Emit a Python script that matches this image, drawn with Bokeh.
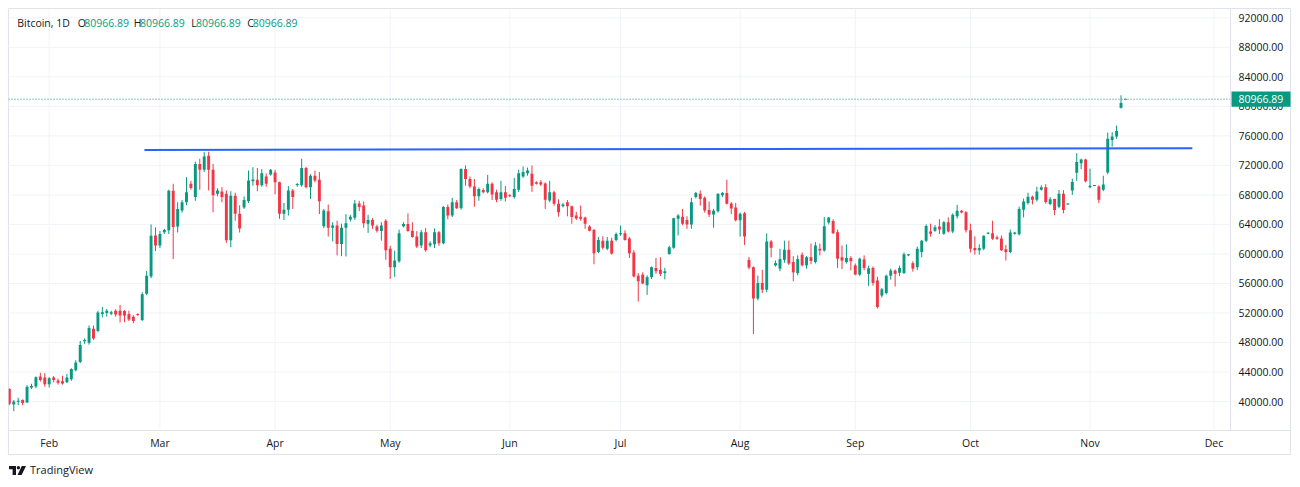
import datetime as dt
import pandas as pd
from bokeh.plotting import figure
from bokeh.models import ColumnDataSource, Range1d, Div
from bokeh.core.properties import value
from bokeh.layouts import column
from bokeh.embed import file_html
from bokeh.resources import INLINE

# ---------------- data ----------------
symbol = "Bitcoin, 1D"
first_session = "2024-01-22"
last_session = "2024-11-11"          # sessions run Sunday..Friday
month_labels = ["Feb", "Mar", "Apr", "May", "Jun", "Jul", "Aug", "Sep", "Oct", "Nov", "Dec"]
price_ticks = [40000, 44000, 48000, 52000, 56000, 60000, 64000, 68000, 72000, 76000, 80000, 84000, 88000, 92000]
trend_sessions = [30.5, 267.1]
trend_prices = [74100, 74330]

opens = [
    # Jan
    41700, 39600, 39950, 40200, 39850, 41900, 42050, 43400, 43250,
    # Feb
    42350, 43250, 42850, 42750, 42600, 43000, 44250, 45350, 48150, 47950, 49850, 49550, 51850,
    52000, 51900, 52300, 52300, 52250, 51850, 51500, 51850, 51050, 54600, 56950, 62500,
    # Mar
    61150, 62950, 63200, 68550, 63700, 65900, 67000, 69500, 67700, 72200, 71400, 73300, 71400,
    68150, 68450, 68150, 61850, 67900, 65450, 66300, 67150, 69850, 70050, 69300, 70500, 70750,
    # Apr
    71050, 69700, 65450, 66000, 68600, 69350, 69300, 71650, 69050, 70600, 70050, 63750, 65800,
    63550, 63850, 61350, 63550, 64650, 64900, 66850, 66550, 64100, 64600, 63700, 63100, 64500,
    # May
    60700, 58200, 59000, 63750, 64050, 63150, 62350, 61150, 62950, 61150, 61300, 62950, 61450,
    66350, 65200, 67000, 66200, 71500, 70150, 69150, 67800, 68650, 68350, 69500, 68350, 67450, 68350,
    # Jun
    67950, 67700, 68700, 70500, 70950, 70850, 69700, 69700, 69550, 67250, 68350, 66800, 66450,
    67000, 66450, 65200, 65050, 64950, 63700, 63250, 60250, 61800, 60700, 61800, 61900,
    # Jul
    62650, 62800, 62100, 60200, 57050, 57200, 55750, 56850, 58100, 57850, 57400, 60000, 60850,
    64750, 65050, 64600, 64000, 67700, 68150, 67600, 65950, 65350, 65800, 67950, 68250, 66850, 66300,
    # Aug
    64550, 65500, 59200, 58200, 53950, 56050, 55150, 61700, 58450, 58000, 59200, 60550, 58900,
    57400, 59900, 58450, 59550, 58900, 60700, 60450, 64250, 64450, 62950, 59550, 58900, 59450,
    # Sep
    58450, 57200, 59250, 57300, 58100, 56400, 54350, 54700, 57050, 57750, 57450, 57400, 59850,
    58750, 58200, 60250, 61800, 63050, 63150, 63700, 62750, 64300, 63050, 65100, 65850, 65650,
    # Oct
    63200, 60800, 60500, 60700, 62750, 62800, 62250, 62100, 60650, 60250, 62750, 62650, 66000,
    66900, 67750, 67350, 68700, 69050, 66750, 67450, 66400, 68150, 66750, 68600, 71000, 72300, 72800,
    # Nov
    69050, 69250, 69150, 68700, 71050, 75450, 75900, 79800, 80966.89,
]
highs = [
    41800, 40200, 40500, 40300, 42200, 42400, 43400, 43900, 43850,
    43300, 43450, 43100, 43500, 43750, 44500, 45600, 48200, 48550, 50300, 50300, 52300, 52800,
    52550, 52300, 52500, 53100, 52400, 52300, 51700, 51950, 54800, 57700, 64000, 63600,
    63100, 63400, 68700, 69500, 67000, 67300, 70400, 69900, 72500, 72900, 73800, 73850, 72200,
    68900, 69050, 68600, 68500, 68300, 66600, 67800, 71300, 71750, 71650, 71500, 70900, 71500,
    71400, 69800, 66900, 69200, 68800, 69600, 72900, 71800, 70800, 71300, 71100, 66100, 66700,
    64300, 64500, 64100, 65400, 65300, 67300, 67200, 67100, 65300, 64850, 63950, 64300, 64700,
    61100, 60450, 63300, 64300, 65500, 64300, 63100, 63250, 63500, 61700, 63450, 63100, 66500,
    66700, 67600, 67300, 71600, 71980, 70500, 70150, 69000, 68900, 70700, 69700, 68700, 69900, 69200,
    68100, 70300, 71400, 71850, 71700, 71980, 69850, 70000, 69700, 69900, 68550, 67400, 66900,
    67300, 66550, 65700, 66550, 65050, 63900, 63400, 62300, 62400, 62300, 62200, 62900,
    63850, 63200, 62300, 60500, 57400, 57500, 57100, 58300, 59450, 59550, 58100, 61100, 64900,
    65400, 66100, 65100, 67600, 68400, 68600, 67800, 67100, 66100, 68200, 68400, 70050, 67000, 66900,
    65600, 65700, 59600, 58300, 57050, 57850, 62800, 61900, 59100, 60700, 61800, 61800, 59700,
    59800, 60200, 59700, 61400, 61600, 61400, 65000, 65000, 64700, 63300, 61150, 61300, 59700,
    58700, 59500, 59800, 58400, 58300, 56900, 55400, 57200, 58000, 57900, 58400, 60200, 60000,
    59000, 61000, 61900, 64000, 64100, 63900, 64700, 64450, 64950, 65500, 66650, 65950, 65800,
    64100, 62400, 61300, 62500, 62950, 64500, 62500, 62500, 61200, 63300, 63000, 66400, 67500,
    68300, 67900, 69100, 69300, 69450, 67700, 67500, 68650, 68650, 66900, 70200, 73650, 72900, 72900,
    71550, 69300, 69300, 70600, 76450, 76500, 77400, 81500, 80966.89,
]
lows = [
    39500, 38700, 39500, 39500, 39800, 41700, 41800, 42700, 42000,
    41900, 42600, 42300, 42300, 42500, 42800, 44100, 45200, 47800, 47700, 48350, 49400, 51400,
    51500, 51700, 51500, 50700, 50750, 50900, 50600, 51600, 50900, 54400, 56700, 60400,
    60800, 62700, 62700, 59300, 62900, 65600, 66600, 68700, 67200, 68700, 71100, 68600, 65650,
    67800, 67000, 61500, 60900, 64500, 62900, 66100, 66900, 69250, 68500, 69100, 69100, 70600,
    68100, 64750, 64600, 65200, 66100, 69100, 69100, 68900, 67450, 69700, 65400, 63500, 62350,
    61700, 59800, 59700, 59650, 64400, 64600, 65800, 63550, 62850, 63400, 62900, 61800, 59200,
    56600, 56900, 58800, 63600, 63000, 62200, 60800, 60800, 60300, 60900, 60800, 61100, 61300,
    64700, 65000, 66100, 66000, 69250, 68900, 66400, 67200, 68200, 68200, 67300, 67000, 67200, 67100,
    67700, 67500, 68400, 70300, 70600, 68400, 69400, 69200, 66100, 67000, 66550, 65050, 66300,
    65100, 64100, 64600, 64500, 63400, 63050, 58600, 60100, 60600, 60500, 59900, 61700,
    62450, 61800, 59450, 56800, 53550, 55900, 54450, 56600, 57300, 57000, 56550, 59900, 60700,
    62500, 63900, 63400, 63400, 67500, 66550, 65600, 65000, 63550, 65600, 67700, 66700, 65400, 64400,
    62350, 61200, 57900, 49150, 53700, 54700, 54800, 59550, 58300, 57650, 58800, 58500, 56300,
    57100, 58300, 58000, 58600, 58700, 59800, 60300, 64000, 62700, 58100, 57950, 58700, 57750,
    57100, 57000, 57800, 55650, 55700, 52600, 54100, 54500, 56500, 55580, 57000, 57300, 59700,
    57600, 57800, 59550, 61600, 62350, 63000, 62700, 62600, 62900, 62800, 64800, 65500, 62900,
    60200, 59900, 59900, 60500, 62650, 61900, 61900, 60400, 59100, 60100, 62600, 62500, 64950,
    66700, 66700, 67100, 68600, 66800, 66600, 65250, 66200, 65500, 66700, 68000, 69900, 71500, 69700,
    68900, 69200, 66900, 68500, 70800, 74550, 75600, 79700, 80966.89,
]
closes = [
    39700, 40000, 40100, 39800, 42000, 42100, 43300, 42900, 42350,
    43150, 42900, 42550, 42450, 43250, 44400, 45300, 47650, 48350, 49950, 48550, 52050, 52100,
    52300, 52100, 51800, 51650, 51650, 51100, 50900, 51750, 54550, 57050, 62450, 61150,
    62700, 63250, 68550, 63650, 66100, 67000, 68350, 68950, 72200, 71400, 73200, 71400, 67950,
    68600, 67700, 61850, 67900, 65450, 63450, 67300, 69950, 70100, 69300, 70950, 69500, 71400,
    69700, 65450, 66000, 68600, 67700, 69450, 71650, 69050, 70600, 69950, 67150, 65900, 63550,
    63850, 61350, 63550, 64150, 65050, 66850, 66350, 64150, 64600, 63850, 63150, 63850, 60500,
    58200, 59100, 62800, 64050, 63100, 62300, 61000, 62950, 60500, 61450, 62950, 61450, 66350,
    65200, 67000, 66200, 71500, 70150, 69150, 67800, 68800, 68350, 69500, 68050, 67350, 68350, 67600,
    67850, 68800, 70950, 71100, 71300, 69250, 69500, 69400, 67350, 68350, 66800, 65650, 66700,
    66450, 65000, 64800, 64750, 64100, 63150, 60100, 61900, 60850, 61800, 60050, 62700,
    62800, 61900, 60100, 56950, 56300, 56000, 56850, 58200, 57650, 57300, 57650, 60900, 64850,
    65200, 64100, 64000, 67000, 68250, 67450, 65900, 65350, 65850, 68150, 68250, 66800, 66150, 64550,
    65450, 62350, 58150, 53950, 56050, 55150, 61700, 60850, 58750, 59300, 60550, 58700, 57500,
    59300, 58450, 59550, 59050, 61150, 60450, 63750, 64950, 62800, 59350, 59100, 59450, 59000,
    57200, 59350, 58100, 58050, 56050, 52800, 55200, 57050, 57750, 57300, 58100, 59950, 59900,
    58000, 60700, 61800, 63800, 62750, 63600, 63300, 64300, 63050, 65300, 65850, 65600, 63200,
    60700, 60500, 60800, 62450, 62850, 62050, 62050, 60500, 60250, 62900, 62900, 66100, 67100,
    67750, 67350, 68450, 69050, 67050, 67400, 65950, 68150, 65950, 66800, 69750, 72450, 72800, 69850,
    69250, 69280, 67350, 69400, 75600, 75900, 76650, 80450, 80966.89,
]

# ---------------- layout constants ----------------
UP, DOWN = "#089981", "#f23645"
TEXT = "#131722"
SEP = "#e0e3eb"
GRID = "#f0f3fa"
FONT = "Open Sans"
PAGE_X, PAGE_Y = 8, 8              # top-left of the chart box on the page
BOX_W, BOX_H = 1283, 447           # whole chart box (pane + price scale + time scale)
PANE_RIGHT_PX, PANE_BOTTOM_PX = 1230, 430
X0_PX, DX = 8.84, 4.429            # page x of the first session, px per session
Y_TOP = 93260                      # price at the top edge of the box
PPP = 135.52                       # price units per px

x_start = (PAGE_X - X0_PX) / DX
x_end = x_start + BOX_W / DX
y_top = Y_TOP
y_bottom = Y_TOP - BOX_H * PPP


def sx(px):
    return x_start + (px - PAGE_X) / DX


def sy(py):
    return Y_TOP - (py - PAGE_Y) * PPP


dates = pd.bdate_range(first_session, last_session, freq="C", weekmask="Sun Mon Tue Wed Thu Fri")
n = len(dates)
assert n == len(opens) == len(highs) == len(lows) == len(closes), (n, len(opens), len(highs), len(lows), len(closes))
idx = list(range(n))

# month ticks: first session of each month; future months counted in calendar days
month_ticks = []
for lbl in month_labels:
    m = dt.datetime.strptime(lbl, "%b").month
    pos = None
    for i, d in enumerate(dates):
        if d.month == m:
            pos = i
            break
    if pos is None:
        pos = (n - 1) + (pd.Timestamp(2024, m, 1) - dates[-1]).days
    month_ticks.append(pos)

colors = [UP if c >= o else DOWN for o, c in zip(opens, closes)]
tops, bots = [], []
min_body = PPP * 1.0
for o, c in zip(opens, closes):
    t, b = max(o, c), min(o, c)
    if t - b < min_body:
        mid = (t + b) / 2
        t, b = mid + min_body / 2, mid - min_body / 2
    tops.append(t)
    bots.append(b)

src = ColumnDataSource(dict(x=idx, high=highs, low=lows, top=tops, bottom=bots, color=colors))

p = figure(width=BOX_W, height=BOX_H,
           x_range=Range1d(x_start, x_end), y_range=Range1d(y_bottom, y_top),
           x_axis_location=None, y_axis_location=None,
           toolbar_location=None, tools="", output_backend="svg", title=None,
           min_border_left=0, min_border_top=0, min_border_right=0, min_border_bottom=0)
p.margin = (PAGE_Y, 0, 0, PAGE_X)
p.background_fill_color = "white"
p.border_fill_color = "white"
p.outline_line_color = SEP
p.outline_line_width = 1
p.xgrid.visible = False
p.ygrid.visible = False

pane_right = sx(PANE_RIGHT_PX)
pane_bottom = sy(PANE_BOTTOM_PX)

# grid lines
p.segment(x0=[x_start] * len(price_ticks), x1=[pane_right] * len(price_ticks), y0=price_ticks, y1=price_ticks,
          line_color=GRID, line_width=1)
p.segment(x0=month_ticks, x1=month_ticks, y0=[y_top] * len(month_ticks), y1=[pane_bottom] * len(month_ticks),
          line_color=GRID, line_width=1)

# candles
p.segment(x0="x", y0="low", x1="x", y1="high", line_color="color", line_width=1, source=src)
p.vbar(x="x", width=0.66, top="top", bottom="bottom", fill_color="color", line_color=None, source=src)

# trend line
p.line(trend_sessions, trend_prices, line_color="#2962ff", line_width=2)

# last price line
last_price = closes[-1]
p.segment(x0=[x_start], x1=[pane_right], y0=[last_price], y1=[last_price],
          line_color=UP, line_dash="1 2", line_width=1)

# pane separators (price scale | pane, time scale)
p.segment(x0=[pane_right], x1=[pane_right], y0=[y_top], y1=[pane_bottom], line_color=SEP, line_width=1)
p.segment(x0=[x_start], x1=[x_end], y0=[pane_bottom], y1=[pane_bottom], line_color=SEP, line_width=1)

# price scale labels
p.text(x=[sx(1238)] * len(price_ticks), y=price_ticks, text=[f"{t:.2f}" for t in price_ticks],
       text_font=value(FONT), text_font_size=value("10.5px"), text_color=TEXT,
       text_baseline="middle", text_align="left")

# last price tag
p.quad(left=[sx(1231)], right=[sx(1290)], top=[last_price + 7.6 * PPP], bottom=[last_price - 7.6 * PPP],
       fill_color=UP, line_color=None)
p.text(x=[sx(1238)], y=[last_price], text=[f"{last_price:.2f}"],
       text_font=value(FONT), text_font_size=value("10.5px"), text_color="white",
       text_baseline="middle", text_align="left")

# time scale labels
p.text(x=month_ticks, y=[sy(442)] * len(month_ticks), text=month_labels,
       text_font=value(FONT), text_font_size=value("10.5px"), text_color=TEXT,
       text_baseline="middle", text_align="center")

# legend line
legend_px = [16.7, 77.3, 83.7, 133.3, 139.5, 190.7, 195.5, 246.7, 252.2]
legend_txt = [symbol, "O", f"{opens[-1]:.2f}", "H", f"{highs[-1]:.2f}", "L", f"{lows[-1]:.2f}", "C", f"{closes[-1]:.2f}"]
legend_col = [TEXT, TEXT, UP, TEXT, UP, TEXT, UP, TEXT, UP]
p.text(x=[sx(v) for v in legend_px], y=[sy(22.7)] * len(legend_px), text=legend_txt, text_color=legend_col,
       text_font=value(FONT), text_font_size=value("10.5px"), text_baseline="middle", text_align="left")

logo_svg = ('<svg width="17" height="9" viewBox="0 0 17 9">'
            '<path d="M0 0H7V9H3.6V3.3H0Z" fill="#131722"/>'
            '<circle cx="9.4" cy="1.7" r="1.7" fill="#131722"/>'
            '<path d="M12.8 0H17L12.6 9H8.5Z" fill="#131722"/></svg>')
div = Div(text=('<div style="display:flex;align-items:center;height:22px;padding-top:8px;padding-left:1px;'
                f'font-family:\'{FONT}\';font-size:11px;color:{TEXT}">{logo_svg}'
                '<span style="margin-left:4px">TradingView</span></div>'),
          width=300, height=30)
div.margin = (0, 0, 0, PAGE_X)

layout = column(p, div, spacing=0)
open("out.html", "w").write(file_html(layout, INLINE))
